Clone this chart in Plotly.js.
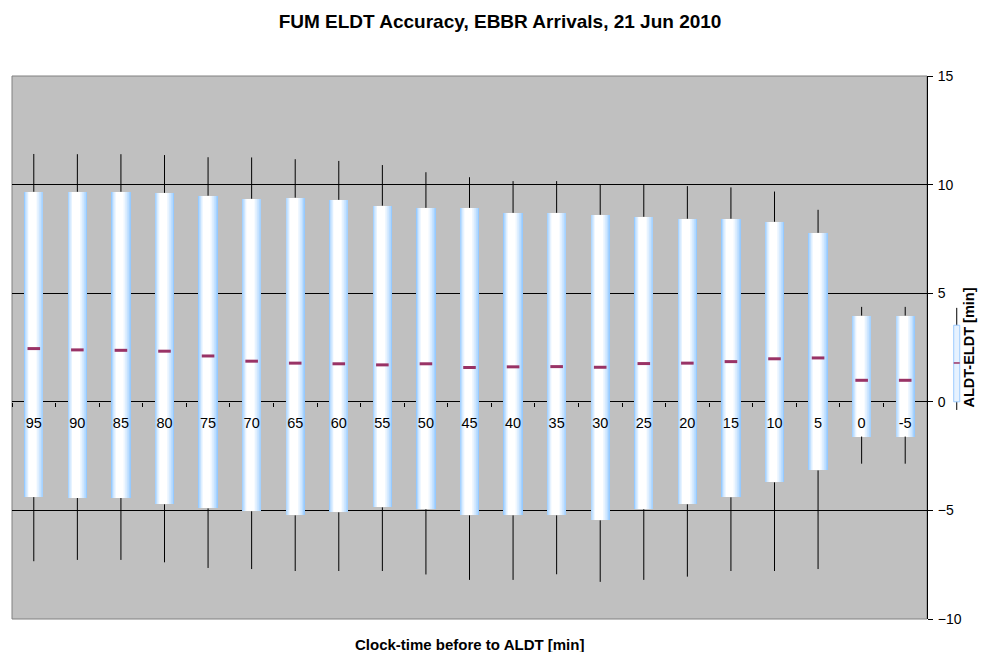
<!DOCTYPE html>
<html>
<head>
<meta charset="utf-8">
<script src="https://cdn.plot.ly/plotly-3.0.1.min.js"></script>
<style>html,body{margin:0;padding:0;background:#fff;}#chart{width:983px;height:652px;}</style>
</head>
<body>
<div id="chart"></div>
<script>
// ---- data ----
var categories = ['95','90','85','80','75','70','65','60','55','50','45','40','35','30','25','20','15','10','5','0','-5'];
var whiskerMax = [11.41,11.40,11.40,11.36,11.26,11.25,11.17,11.09,10.90,10.57,10.34,10.16,10.16,10.02,10.02,9.93,9.87,9.68,8.84,4.37,4.37];
var boxTop     = [9.67,9.67,9.67,9.62,9.49,9.35,9.40,9.30,9.03,8.93,8.93,8.70,8.70,8.61,8.52,8.43,8.43,8.29,7.78,3.97,3.97];
var medians    = [2.45,2.39,2.37,2.33,2.11,1.87,1.78,1.75,1.70,1.75,1.58,1.61,1.62,1.59,1.76,1.78,1.85,1.98,2.02,0.99,0.99];
var boxBottom  = [-4.39,-4.43,-4.43,-4.72,-4.91,-5.04,-5.23,-5.09,-4.86,-4.95,-5.23,-5.23,-5.23,-5.46,-4.95,-4.72,-4.40,-3.71,-3.16,-1.60,-1.60];
var whiskerMin = [-7.34,-7.28,-7.28,-7.39,-7.65,-7.70,-7.79,-7.79,-7.79,-7.95,-8.20,-8.20,-7.94,-8.29,-8.20,-8.05,-7.79,-7.79,-7.70,-2.85,-2.85];
var yTickVals = [-10,-5,0,5,10,15];

var FONT = 'Liberation Sans, Arial, Helvetica, sans-serif';
var traces = [];

// whiskers (segments from box edges to extremes)
var wx = [], wy = [];
for (var i = 0; i < categories.length; i++) {
  wx.push(categories[i], categories[i], null, categories[i], categories[i], null);
  wy.push(boxTop[i], whiskerMax[i], null, boxBottom[i], whiskerMin[i], null);
}
traces.push({type:'scatter', mode:'lines', x:wx, y:wy, line:{color:'#000000', width:1}, hoverinfo:'skip', showlegend:false});

// gradient boxes: overlaid bars of decreasing width, blue edge to white core
var heights = boxTop.map(function(t, i){ return t - boxBottom[i]; });
var W = 0.44, N = 12;
var c0 = [150, 202, 255], c1 = [255, 255, 255];
for (var k = 0; k < N; k++) {
  var t = k / (N - 1);
  var w = W * (1 - 0.62 * t);
  var shift = -0.03 * t;
  var col = 'rgb(' + c0.map(function(c, j){ return Math.round(c + (c1[j] - c) * Math.pow(t, 0.8)); }).join(',') + ')';
  traces.push({type:'bar', x:categories, y:heights, base:boxBottom, width:w, offset:shift - w/2,
    marker:{color:col, line:{width:0}}, hoverinfo:'skip', showlegend:false});
}

// medians
traces.push({type:'scatter', mode:'markers', x:categories, y:medians,
  marker:{symbol:'line-ew', size:9, line:{color:'#993366', width:3}}, hoverinfo:'skip', showlegend:false});

// legend glyph (paper coordinates, right of the axis)
var lx = 1.0325, hw = 0.0033;
var shapes = [
  {type:'rect', xref:'paper', yref:'paper', x0:0, x1:1, y0:0, y1:1, line:{color:'#808080', width:1}, layer:'below'},
  {type:'line', xref:'paper', yref:'paper', x0:lx, x1:lx, y0:0.385, y1:0.573, line:{color:'#000', width:1}},
  {type:'rect', xref:'paper', yref:'paper', x0:lx-hw, x1:lx+hw, y0:0.400, y1:0.541, fillcolor:'#e6f2ff', line:{color:'#9ccbff', width:1}},
  {type:'line', xref:'paper', yref:'paper', x0:lx-hw, x1:lx+hw, y0:0.4715, y1:0.4715, line:{color:'#993366', width:1.5}}
];

var layout = {
  width:983, height:652,
  margin:{l:12, r:56, t:76, b:33},
  paper_bgcolor:'#ffffff', plot_bgcolor:'#c0c0c0',
  barmode:'overlay', bargap:0,
  font:{family:FONT, size:12, color:'#000'},
  title:{text:'<b>FUM ELDT Accuracy, EBBR Arrivals, 21 Jun 2010</b>', xref:'container', x:0.5087, xanchor:'center',
    yref:'container', y:0.967, yanchor:'middle', font:{family:FONT, size:19, color:'#000'}},
  xaxis:{type:'category', categoryorder:'array', categoryarray:categories, range:[-0.5, categories.length - 0.5],
    anchor:'free', position:0.4, showline:false, showgrid:false, zeroline:false,
    ticks:'outside', tickson:'boundaries', ticklen:4, tickcolor:'#000', tickwidth:1, ticklabelstandoff:11,
    tickfont:{family:FONT, size:14.5, color:'#000'}, fixedrange:true},
  yaxis:{side:'right', range:[-10, 15], tickvals:yTickVals, showgrid:true, gridcolor:'#000', gridwidth:1,
    zeroline:false, showline:true, linecolor:'#000', linewidth:1, ticks:'outside', ticklen:5, tickcolor:'#000',
    ticklabelstandoff:2, tickfont:{family:FONT, size:14, color:'#000'},
    title:{text:'<b>ALDT-ELDT [min]</b>', font:{family:FONT, size:14.5, color:'#000'}, standoff:3}, fixedrange:true},
  annotations:[{text:'<b>Clock-time before to ALDT [min]</b>', xref:'paper', yref:'paper', x:0.5, y:0, yshift:-25,
    xanchor:'center', yanchor:'middle', showarrow:false, font:{family:FONT, size:15, color:'#000'}}],
  shapes:shapes,
  showlegend:false
};

Plotly.newPlot('chart', traces, layout, {displayModeBar:false, staticPlot:true});
</script>
</body>
</html>
